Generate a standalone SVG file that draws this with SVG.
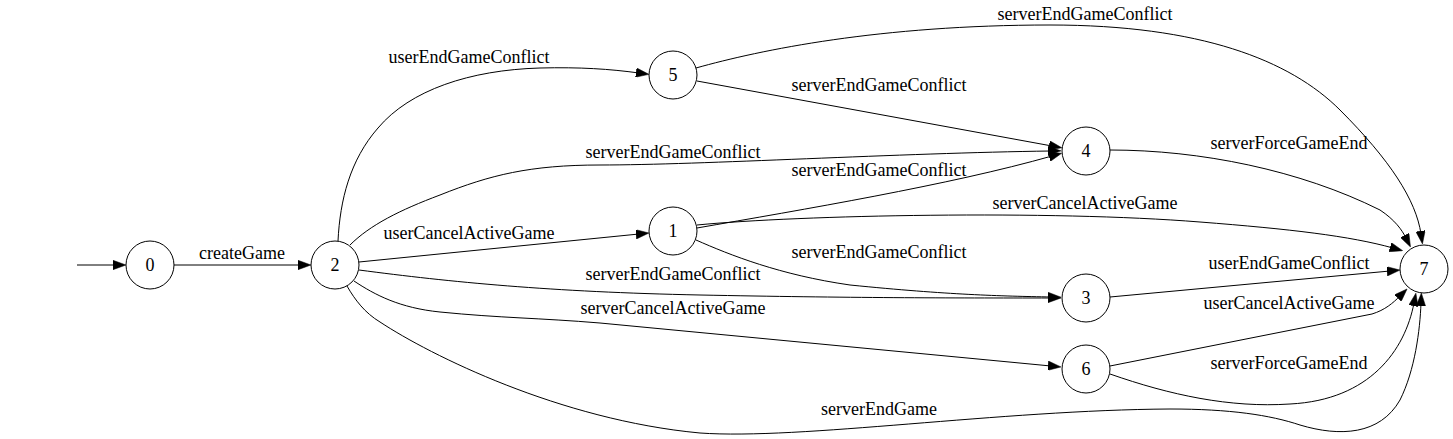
<svg xmlns="http://www.w3.org/2000/svg" width="1453" height="439" viewBox="0 0 1453 439">
<style>
.node circle{fill:none;stroke:#000;stroke-width:1}
text{font-family:"Liberation Serif","Times New Roman",serif;font-size:18px;fill:#000;text-anchor:middle}
.edge path{fill:none;stroke:#000;stroke-width:1;marker-end:url(#arr)}
</style>
<defs>
<marker id="arr" viewBox="0 0 13 9.4" refX="3" refY="4.7" markerWidth="13" markerHeight="9.4" markerUnits="userSpaceOnUse" orient="auto">
<path d="M0,0 L13,4.7 L0,9.4 z" fill="#000" stroke="#000" stroke-width="0.5"/>
</marker>
</defs>
<rect width="1453" height="439" fill="#fff"/>
<g id="connectors">
<g class="edge"><path d="M77,265 L116,265"/></g>
<g class="edge"><path d="M174,265 L301,265"/><text x="242" y="259">createGame</text></g>
<g class="edge"><path d="M338,241 C340,200 350,160 378,128 C410,90 470,70 540,68 C580,67 610,69 639,73"/><text x="469" y="63">userEndGameConflict</text></g>
<g class="edge"><path d="M350,245 C370,225 400,210 440,195 C490,175 530,165 600,165 C700,165 900,153 1051,151"/><text x="673" y="158">serverEndGameConflict</text></g>
<g class="edge"><path d="M359,262 L639,234"/><text x="469" y="239">userCancelActiveGame</text></g>
<g class="edge"><path d="M359,270 C450,282 550,292 700,295 C850,298 950,298 1051,298"/><text x="673" y="280">serverEndGameConflict</text></g>
<g class="edge"><path d="M354,281 C375,295 400,308 440,312 C500,318 540,318 600,323 L1051,366"/><text x="673" y="314">serverCancelActiveGame</text></g>
<g class="edge"><path d="M347,286 C355,300 365,313 380,322 C430,355 560,420 700,433 C800,440 1000,410 1170,409 C1230,409 1270,415 1300,425 C1340,437 1380,435 1400,400 C1415,370 1420,330 1421,303"/><text x="879" y="415">serverEndGame</text></g>
<g class="edge"><path d="M696,68 C760,50 880,25 1050,25 C1200,25 1290,60 1340,110 C1390,160 1416,200 1421,234"/><text x="1085" y="20">serverEndGameConflict</text></g>
<g class="edge"><path d="M697,81 L1052,146"/><text x="879" y="91">serverEndGameConflict</text></g>
<g class="edge"><path d="M1110,150 C1200,150 1300,170 1380,210 C1395,220 1402,230 1406,238"/><text x="1289" y="149">serverForceGameEnd</text></g>
<g class="edge"><path d="M697,228 C800,210 950,185 1052,156"/><text x="879" y="176">serverEndGameConflict</text></g>
<g class="edge"><path d="M697,225 C800,215 1050,210 1200,222 C1290,229 1350,236 1393,248"/><text x="1085" y="209">serverCancelActiveGame</text></g>
<g class="edge"><path d="M696,240 C730,255 780,275 850,285 C950,295 1000,296 1051,297"/><text x="879" y="258">serverEndGameConflict</text></g>
<g class="edge"><path d="M1110,297 L1390,271"/><text x="1289" y="269">userEndGameConflict</text></g>
<g class="edge"><path d="M1110,366 L1372,314 C1385,310 1393,303 1400,296"/><text x="1289" y="309">userCancelActiveGame</text></g>
<g class="edge"><path d="M1110,374 C1170,395 1230,408 1290,404 C1370,400 1405,350 1414,303"/><text x="1289" y="369">serverForceGameEnd</text></g>
</g>
<g id="n0" class="node"><circle cx="150" cy="265" r="24"/><text x="150" y="271">0</text></g>
<g id="n2" class="node"><circle cx="335" cy="265" r="24"/><text x="335" y="271">2</text></g>
<g id="n5" class="node"><circle cx="673" cy="75" r="24"/><text x="673" y="81">5</text></g>
<g id="n1" class="node"><circle cx="673" cy="231" r="24"/><text x="673" y="237">1</text></g>
<g id="n4" class="node"><circle cx="1086" cy="151" r="24"/><text x="1086" y="157">4</text></g>
<g id="n3" class="node"><circle cx="1086" cy="298" r="24"/><text x="1086" y="304">3</text></g>
<g id="n6" class="node"><circle cx="1086" cy="369" r="24"/><text x="1086" y="375">6</text></g>
<g id="n7" class="node"><circle cx="1424" cy="269" r="24"/><text x="1424" y="275">7</text></g>
</svg>
